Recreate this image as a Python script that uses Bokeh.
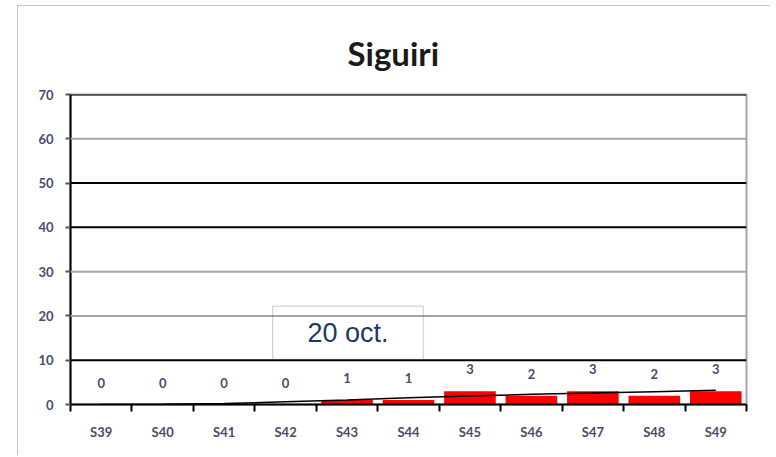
from bokeh.plotting import figure
from bokeh.models import (Range1d, LinearAxis, FixedTicker,
                          Span, BoxAnnotation, Label, LabelSet, ColumnDataSource)
from bokeh.core.properties import value
from bokeh.embed import file_html
from bokeh.resources import INLINE

weeks = ["S39", "S40", "S41", "S42", "S43", "S44", "S45", "S46", "S47", "S48", "S49"]
cases = [0, 0, 0, 0, 1, 1, 3, 2, 3, 2, 3]
trend = [0, 0.05, 0.2, 0.6, 1.0, 1.5, 1.9, 2.3, 2.6, 2.9, 3.2]
y_ticks = [0, 10, 20, 30, 40, 50, 60, 70]
grid_black = [10, 40, 50, 70]
grid_gray = [20, 30, 60]
note_text = "20 oct."

label_color = "#4b4b6b"

# category slots: week i occupies [i, i+1]
centers = [i + 0.5 for i in range(len(weeks))]
edges = list(range(len(weeks) + 1))

p = figure(width=753, height=450,
           x_range=Range1d(0, len(weeks)),
           y_range=Range1d(0, 70),
           output_backend="svg", toolbar_location=None,
           x_axis_location=None, y_axis_location=None,
           min_border_left=53, min_border_right=24,
           min_border_top=89, min_border_bottom=51,
           background_fill_color="white", border_fill_color="white")
p.margin = (5, 0, 0, 17)
p.styles = {"outline": "2px solid #b4b4b4", "outline-offset": "-2px"}
p.xgrid.visible = False
p.ygrid.visible = False
p.outline_line_color = "#a6a6a6"
p.outline_line_width = 2

p.title.text = "Siguiri"
p.title.text_font = "Lato"
p.title.text_font_style = "bold"
p.title.text_font_size = "33px"
p.title.text_color = "#1a1a1a"
p.title.align = "left"
p.title.offset = 277
p.title.standoff = 44

# y axis
yax = LinearAxis(ticker=FixedTicker(ticks=y_ticks))
yax.axis_line_color = "black"
yax.axis_line_width = 2
yax.major_tick_out = 5
yax.major_tick_in = 0
yax.major_tick_line_color = "#555555"
yax.major_tick_line_width = 2
yax.minor_tick_line_color = None
yax.major_label_text_font = "Lato"
yax.major_label_text_font_style = "bold"
yax.major_label_text_font_size = "13px"
yax.major_label_text_color = label_color
yax.major_label_standoff = 12
p.add_layout(yax, "left")

# x axis: labels at slot centers, small ticks at slot boundaries
xax = LinearAxis(ticker=FixedTicker(ticks=centers, minor_ticks=edges),
                 major_label_overrides={c: w for c, w in zip(centers, weeks)})
xax.axis_line_color = "black"
xax.axis_line_width = 2
xax.major_tick_line_color = None
xax.major_tick_out = 0
xax.major_tick_in = 0
xax.minor_tick_line_color = "black"
xax.minor_tick_line_width = 2
xax.minor_tick_out = 7
xax.minor_tick_in = 0
xax.major_label_text_font = "Lato"
xax.major_label_text_font_style = "bold"
xax.major_label_text_font_size = "13px"
xax.major_label_text_color = label_color
xax.major_label_standoff = 12
p.add_layout(xax, "below")

for v in grid_gray:
    p.add_layout(Span(location=v, dimension="width", line_color="#a6a6a6", line_width=2))
for v in grid_black:
    p.add_layout(Span(location=v, dimension="width", line_color="black", line_width=2))

src = ColumnDataSource(dict(x=centers, cases=cases, label=[str(c) for c in cases]))
p.vbar(x="x", top="cases", width=0.84, source=src, fill_color="#ff0000", line_color=None)
p.line(centers, trend, line_color="black", line_width=1.5)

p.add_layout(LabelSet(x="x", y="cases", text="label", source=src, y_offset=22,
                      text_align="center", text_baseline="middle",
                      text_font=value("Lato"), text_font_style="bold", text_font_size="13px",
                      text_color=label_color))

# note box
p.add_layout(BoxAnnotation(left=3.29, right=5.74, bottom=10.2, top=22.2,
                           fill_alpha=0, line_color="#2f4f8f", line_width=1))
p.add_layout(Label(x=4.515, y=16.2, text=note_text, text_align="center", text_baseline="middle",
                   text_font="Liberation Sans", text_font_size="27px", text_color="#1f3864"))

open("out.html", "w").write(file_html(p, INLINE))
